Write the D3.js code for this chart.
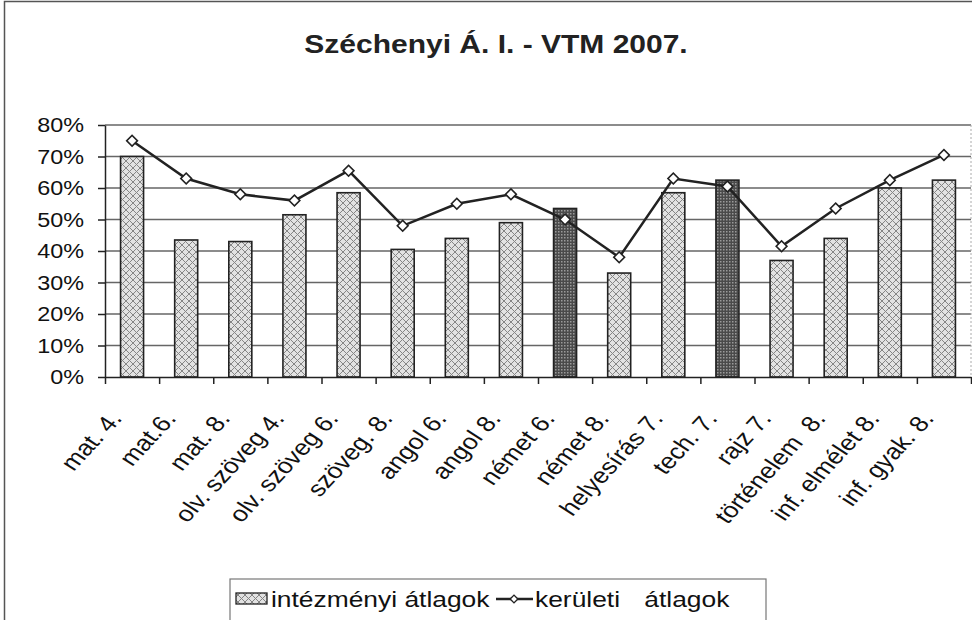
<!doctype html>
<html lang="hu">
<head>
  <meta charset="utf-8">
  <title>Széchenyi Á. I. - VTM 2007.</title>
  <style>
    body { margin: 0; background: #fff; }
    svg { display: block; font-family: "Liberation Sans", Arial, sans-serif; }
    text { white-space: pre; }
  </style>
</head>
<body>
  <svg width="972" height="620"></svg>

  <script src="https://cdn.jsdelivr.net/npm/d3@7/dist/d3.min.js"></script>
  <script>
    var categories = ["mat. 4.", "mat.6.", "mat. 8.", "olv. szöveg 4.", "olv. szöveg 6.", "szöveg. 8.",
      "angol 6.", "angol 8.", "német 6.", "német 8.", "helyesírás 7.", "tech. 7.", "rajz 7.",
      "történelem  8.", "inf. elmélet 8.", "inf. gyak. 8."];
    var intezmenyi = [0.70, 0.435, 0.43, 0.515, 0.585, 0.405, 0.44, 0.49, 0.535, 0.33, 0.585, 0.625, 0.37, 0.44, 0.60, 0.625];
    var keruleti = [0.75, 0.63, 0.58, 0.56, 0.655, 0.48, 0.55, 0.58, 0.50, 0.38, 0.63, 0.605, 0.415, 0.535, 0.625, 0.705];
    var highlighted = ["német 6.", "tech. 7."];
    var yTicks = [0, 0.1, 0.2, 0.3, 0.4, 0.5, 0.6, 0.7, 0.8];
    var seriesNames = ["intézményi átlagok", "kerületi  átlagok"];

    // the scanned picture is stretched sideways, so text gets this too
    var sx = 1.2;
    var plotLeft = 105, plotRight = 971, plotTop = 125, plotBottom = 377;

    var svg = d3.select('svg');
    var defs = svg.append('defs');

    var hatch = defs.append('pattern')
      .attr('id', 'hatch').attr('patternUnits', 'userSpaceOnUse')
      .attr('width', 7).attr('height', 7);
    hatch.append('rect').attr('width', 7).attr('height', 7).attr('fill', '#e2e2e2');
    hatch.append('path').attr('d', 'M0,0L7,7M7,0L0,7')
      .attr('stroke', '#858585').attr('stroke-width', 1);

    var dots = defs.append('pattern')
      .attr('id', 'dots').attr('patternUnits', 'userSpaceOnUse')
      .attr('width', 3).attr('height', 3);
    dots.append('rect').attr('width', 3).attr('height', 3).attr('fill', '#4a4a4a');
    dots.append('rect').attr('width', 1.5).attr('height', 1.5).attr('fill', '#9a9a9a');

    // outer frame
    svg.append('rect')
      .attr('x', 4.5).attr('y', 1.5).attr('width', 1000).attr('height', 700)
      .attr('fill', 'none').attr('stroke', '#555').attr('stroke-width', 1.5);

    svg.append('text')
      .attr('transform', 'translate(496,53) scale(' + sx + ',1)')
      .attr('text-anchor', 'middle')
      .attr('font-size', 25).attr('font-weight', 'bold').attr('fill', '#222')
      .text('Széchenyi Á. I. - VTM 2007.');

    var x = d3.scaleBand().domain(categories).range([plotLeft, plotRight]).paddingInner(0.575).paddingOuter(0.2875);
    var xEdge = d3.scaleLinear().domain([0, categories.length]).range([plotLeft, plotRight]);
    var y = d3.scaleLinear().domain([0, 0.8]).range([plotBottom, plotTop]);

    // grid lines
    svg.append('g').selectAll('line').data(yTicks.slice(1)).enter()
      .append('line')
      .attr('x1', plotLeft).attr('x2', plotRight)
      .attr('y1', v => y(v)).attr('y2', v => y(v))
      .attr('stroke', '#666').attr('stroke-width', 1.3);

    svg.append('line')
      .attr('x1', plotRight).attr('x2', plotRight).attr('y1', plotTop).attr('y2', plotBottom)
      .attr('stroke', '#aaa').attr('stroke-width', 1).attr('stroke-dasharray', '2,2');

    // bars
    svg.append('g').selectAll('rect').data(intezmenyi).enter()
      .append('rect')
      .attr('x', (v, i) => x(categories[i]))
      .attr('y', v => y(v))
      .attr('width', x.bandwidth())
      .attr('height', v => y(0) - y(v))
      .attr('fill', (v, i) => highlighted.indexOf(categories[i]) >= 0 ? 'url(#dots)' : 'url(#hatch)')
      .attr('stroke', '#222').attr('stroke-width', 1.6);

    // axes
    var yAxis = svg.append('g')
      .attr('transform', 'translate(' + plotLeft + ',0)')
      .call(d3.axisLeft(y).tickValues(yTicks).tickSize(7).tickSizeOuter(0).tickFormat(''));
    yAxis.selectAll('line, path').attr('stroke', '#222').attr('stroke-width', 1.5);

    var xAxis = svg.append('g')
      .attr('transform', 'translate(0,' + plotBottom + ')')
      .call(d3.axisBottom(xEdge).tickValues(d3.range(categories.length + 1)).tickSize(7).tickSizeOuter(0).tickFormat(''));
    xAxis.selectAll('line, path').attr('stroke', '#222').attr('stroke-width', 1.5);

    svg.append('g').selectAll('text').data(yTicks).enter()
      .append('text')
      .attr('transform', v => 'translate(84,' + y(v) + ') scale(' + sx + ',1)')
      .attr('dy', '0.36em')
      .attr('text-anchor', 'end')
      .attr('font-size', 19.5).attr('fill', '#111')
      .text(v => Math.round(v * 100) + '%');

    svg.append('g').selectAll('text').data(categories).enter()
      .append('text')
      .attr('transform', c => 'translate(' + (x(c) + x.bandwidth() / 2 - 9) + ',419) scale(' + sx + ',1) rotate(-52)')
      .attr('text-anchor', 'end')
      .attr('font-size', 22).attr('fill', '#111')
      .text(c => c);

    // line series
    var line = d3.line()
      .x((v, i) => x(categories[i]) + x.bandwidth() / 2)
      .y(v => y(v));
    svg.append('path').datum(keruleti)
      .attr('d', line)
      .attr('fill', 'none').attr('stroke', '#222').attr('stroke-width', 2.5);

    var marker = d3.symbol().type(d3.symbolSquare).size(58);
    svg.append('g').selectAll('path').data(keruleti).enter()
      .append('path')
      .attr('d', marker)
      .attr('transform', (v, i) => 'translate(' + (x(categories[i]) + x.bandwidth() / 2) + ',' + y(v) + ') rotate(45)')
      .attr('fill', '#fff').attr('stroke', '#222').attr('stroke-width', 1.6);

    // legend
    var lg = svg.append('g');
    lg.append('rect')
      .attr('x', 230).attr('y', 579).attr('width', 536).attr('height', 60)
      .attr('fill', '#fff').attr('stroke', '#777').attr('stroke-width', 1.2);
    lg.append('rect')
      .attr('x', 236).attr('y', 593).attr('width', 31).attr('height', 11)
      .attr('fill', 'url(#hatch)').attr('stroke', '#222').attr('stroke-width', 1.3);
    lg.append('text')
      .attr('transform', 'translate(271,607) scale(' + sx + ',1)')
      .attr('font-size', 22).attr('fill', '#111')
      .text(seriesNames[0]);
    lg.append('line')
      .attr('x1', 496).attr('x2', 533).attr('y1', 599).attr('y2', 599)
      .attr('stroke', '#222').attr('stroke-width', 2.5);
    lg.append('path')
      .attr('d', d3.symbol().type(d3.symbolSquare).size(30))
      .attr('transform', 'translate(514,599) rotate(45)')
      .attr('fill', '#fff').attr('stroke', '#222').attr('stroke-width', 1.4);
    lg.append('text')
      .attr('transform', 'translate(535,607) scale(' + sx + ',1)')
      .attr('font-size', 22).attr('word-spacing', 4).attr('fill', '#111')
      .text(seriesNames[1]);
  </script>
</body>
</html>
